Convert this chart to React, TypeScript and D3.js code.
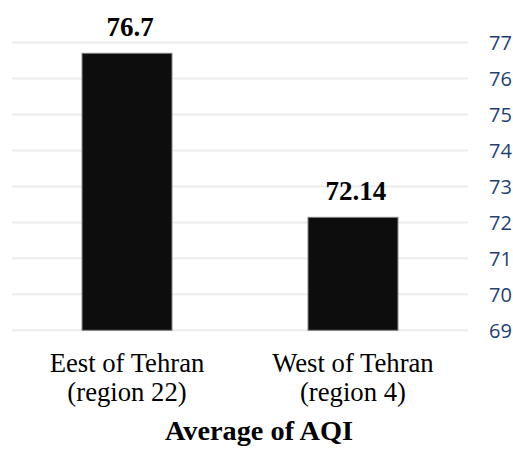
import React from "react";
import * as d3 from "d3";

const categories = ["Eest of Tehran|(region 22)", "West of Tehran|(region 4)"];
const values = [76.7, 72.14];
const valueLabels = ["76.7", "72.14"];
const yTicks = [69, 70, 71, 72, 73, 74, 75, 76, 77];
const title = "Average of AQI";

export default function App() {
  const W = 513, H = 452;
  const x = d3.scaleBand<string>().domain(categories).range([12, 468]).paddingInner(0.602).paddingOuter(0.31);
  const y = d3.scaleLinear().domain([69, 77]).range([330.3, 42.5]);
  const serif = "'Liberation Serif', 'Times New Roman', serif";
  return (
    <svg width={W} height={H} style={{ position: "absolute", left: 0, top: 0, background: "#fff" }}>
      {yTicks.map((t) => (
        <g key={t}>
          <line x1={12} x2={468} y1={y(t)} y2={y(t)} stroke="#ececec" strokeWidth={2} />
          <text x={489} y={y(t)} dy="0.38em" fontFamily="'Open Sans', sans-serif" fontSize={20} fill="#1f3f73">{t}</text>
        </g>
      ))}
      {categories.map((c, i) => (
        <g key={c}>
          <rect x={x(c)!} y={y(values[i])} width={x.bandwidth()} height={y(69) - y(values[i])} fill="#0d0d0d" stroke="#808080" strokeWidth={1} />
          <text x={x(c)! + x.bandwidth() / 2 + 3} y={y(values[i]) - 17} textAnchor="middle" fontFamily={serif} fontWeight="bold" fontSize={27} fill="#000">{valueLabels[i]}</text>
          {c.split("|").map((line, j) => (
            <text key={j} x={x(c)! + x.bandwidth() / 2} y={371.5 + j * 29} textAnchor="middle" fontFamily={serif} fontSize={26.7} fill="#000">{line}</text>
          ))}
        </g>
      ))}
      <text x={259} y={440} textAnchor="middle" fontFamily={serif} fontWeight="bold" fontSize={28.3} fill="#000">{title}</text>
    </svg>
  );
}
